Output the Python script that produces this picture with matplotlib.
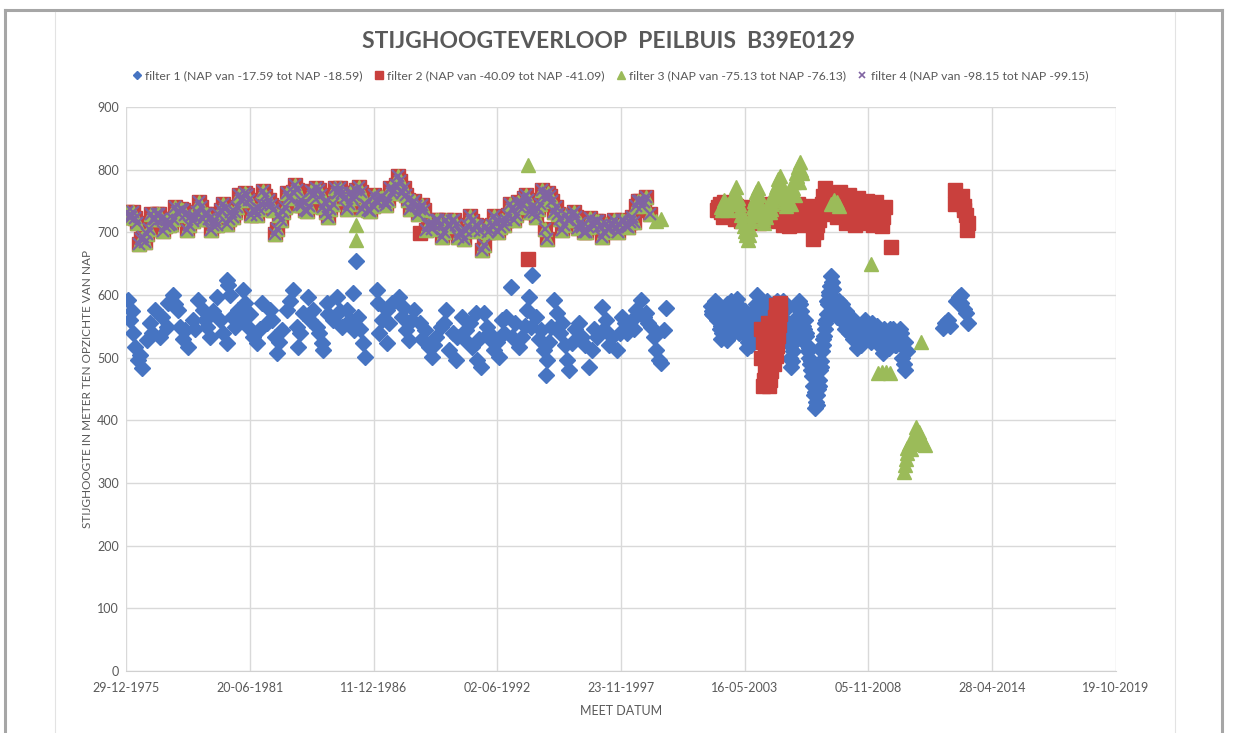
import matplotlib
matplotlib.use('Agg')
import matplotlib.pyplot as plt
import matplotlib.dates as mdates
from matplotlib.lines import Line2D
import numpy as np
from datetime import datetime

plt.rcParams['font.family'] = ['Lato', 'DejaVu Sans']

# ---------------- data (decimal year, value) ----------------
# shared record of filters 2, 3 and 4 (1976 - 1999), identical values
band_years = [1976.03, 1976.21, 1976.38, 1976.56, 1976.74, 1976.91, 1977.09, 1977.27, 1977.44, 1977.62,
              1977.80, 1977.97, 1978.15, 1978.33, 1978.50, 1978.68, 1978.86, 1979.03, 1979.21, 1979.39,
              1979.56, 1979.74, 1979.92, 1980.09, 1980.27, 1980.45, 1980.62, 1980.80, 1980.98, 1981.15,
              1981.33, 1981.51, 1981.68, 1981.86, 1982.04, 1982.21, 1982.39, 1982.57, 1982.74, 1982.92,
              1983.10, 1983.27, 1983.45, 1983.63, 1983.80, 1983.98, 1984.16, 1984.33, 1984.51, 1984.69,
              1984.86, 1985.04, 1985.22, 1985.39, 1985.57, 1985.75, 1985.92, 1986.10, 1986.28, 1986.45,
              1986.63, 1986.81, 1986.98, 1987.16, 1987.34, 1987.51, 1987.69, 1987.87, 1988.04, 1988.22,
              1988.40, 1988.57, 1988.75, 1988.93, 1989.10, 1989.28, 1989.46, 1989.63, 1989.81, 1989.99,
              1990.16, 1990.34, 1990.52, 1990.69, 1990.87, 1991.05, 1991.22, 1991.40, 1991.58, 1991.75,
              1991.93, 1992.11, 1992.28, 1992.46, 1992.64, 1992.81, 1992.99, 1993.17, 1993.34, 1993.52,
              1993.70, 1993.87, 1994.05, 1994.23, 1994.40, 1994.58, 1994.76, 1994.93, 1995.11, 1995.29,
              1995.46, 1995.64, 1995.82, 1995.99, 1996.17, 1996.35, 1996.52, 1996.70, 1996.88, 1997.05,
              1997.23, 1997.41, 1997.58, 1997.76, 1997.94, 1998.11, 1998.29, 1998.47, 1998.64, 1998.82,
              1999.00, 1999.17, 1994.52, 1994.60,
              1976.12, 1976.30, 1976.47, 1976.65, 1976.83, 1977.00, 1977.18, 1977.36, 1977.53, 1977.71,
              1977.89, 1978.06, 1978.24, 1978.42, 1978.59, 1978.77, 1978.95, 1979.12, 1979.30, 1979.48,
              1979.65, 1979.83, 1980.01, 1980.18, 1980.36, 1980.54, 1980.71, 1980.89, 1981.07, 1981.24,
              1981.42, 1981.60, 1981.77, 1981.95, 1982.13, 1982.30, 1982.48, 1982.66, 1982.83, 1983.01,
              1983.19, 1983.36, 1983.54, 1983.72, 1983.89, 1984.07, 1984.25, 1984.42, 1984.60, 1984.78,
              1984.95, 1985.13, 1985.31, 1985.48, 1985.66, 1985.84, 1986.01, 1986.19, 1986.37, 1986.54,
              1986.72, 1986.90, 1987.07, 1987.25, 1987.43, 1987.60, 1987.78, 1987.96, 1988.13, 1988.31,
              1988.49, 1988.66, 1988.84, 1989.02, 1989.19, 1989.37, 1989.55, 1989.72, 1989.90, 1990.08,
              1990.25, 1990.43, 1990.61, 1990.78, 1990.96, 1991.14, 1991.31, 1991.49, 1991.67, 1991.84,
              1992.02, 1992.20, 1992.37, 1992.55, 1992.73, 1992.90, 1993.08, 1993.26, 1993.43, 1993.61,
              1993.79, 1993.96, 1994.14, 1994.32, 1994.49, 1994.67, 1994.85, 1995.02, 1995.20, 1995.38,
              1995.55, 1995.73, 1995.91, 1996.08, 1996.26, 1996.44, 1996.61, 1996.79, 1996.97, 1997.14,
              1997.32, 1997.50, 1997.67, 1997.85, 1998.03, 1998.20, 1998.38, 1998.56, 1998.73, 1998.91]
band_vals = [733, 724, 723, 682, 693, 697, 730, 722, 730, 702,
             720, 714, 740, 730, 736, 704, 726, 724, 748, 722,
             730, 704, 720, 727, 746, 714, 733, 732, 760, 754,
             760, 727, 736, 737, 766, 744, 743, 697, 728, 732,
             763, 757, 776, 744, 743, 734, 766, 762, 768, 740,
             733, 737, 770, 762, 763, 737, 763, 760, 773, 737,
             743, 734, 760, 747, 756, 744, 770, 767, 790, 762,
             760, 737, 750, 730, 743, 704, 713, 712, 720, 692,
             720, 710, 720, 692, 698, 702, 726, 704, 710, 672,
             708, 704, 726, 700, 720, 720, 746, 720, 748, 747,
             760, 732, 733, 737, 768, 754, 758, 732, 730, 704,
             728, 720, 733, 707, 708, 700, 723, 710, 718, 692,
             713, 707, 720, 700, 720, 710, 716, 717, 750, 742,
             756, 730, 705, 690,
             725, 732, 715, 690, 685, 705, 722, 730, 722, 710,
             712, 722, 732, 738, 728, 712, 718, 732, 740, 730,
             722, 712, 712, 735, 738, 722, 725, 740, 752, 762,
             752, 735, 728, 745, 758, 752, 735, 705, 720, 740,
             755, 765, 768, 752, 735, 742, 758, 770, 760, 748,
             725, 745, 762, 770, 755, 745, 755, 768, 765, 745,
             735, 742, 752, 755, 748, 752, 762, 775, 782, 770,
             752, 745, 742, 738, 735, 712, 705, 720, 712, 700,
             712, 718, 712, 700, 690, 710, 718, 712, 702, 680,
             700, 712, 718, 708, 712, 728, 738, 728, 740, 755,
             752, 740, 725, 745, 760, 762, 750, 740, 722, 712,
             720, 728, 725, 715, 700, 708, 715, 718, 710, 700,
             705, 712, 708, 712, 718, 708, 725, 742, 750, 748]

# filter 1 (blue diamonds)
f1_pts = [(1976.08, 592), (1976.17, 560), (1976.30, 539), (1976.39, 517), (1976.52, 496), (1976.70, 483),
          (1976.92, 528), (1977.05, 555), (1977.27, 576), (1977.49, 533), (1977.80, 549), (1977.85, 587),
          (1978.07, 600), (1978.29, 576), (1978.38, 549), (1978.60, 544), (1978.73, 517), (1978.95, 560),
          (1979.17, 592), (1979.39, 576), (1979.57, 549), (1979.70, 533), (1980.01, 597), (1980.14, 560),
          (1980.45, 523), (1980.45, 624), (1980.50, 616), (1980.58, 600), (1980.80, 549), (1980.94, 576),
          (1981.16, 608), (1981.25, 587), (1981.38, 549), (1981.60, 533), (1981.78, 523), (1982.00, 587),
          (1982.22, 555), (1982.35, 576), (1982.57, 533), (1982.66, 507), (1982.88, 544), (1983.10, 576),
          (1983.37, 608), (1983.54, 549), (1983.59, 517), (1983.81, 571), (1984.03, 597), (1984.25, 576),
          (1984.43, 549), (1984.65, 523), (1984.69, 512), (1984.87, 587), (1985.13, 560), (1985.31, 597),
          (1985.57, 549), (1985.75, 576), (1986.02, 603), (1986.10, 544), (1986.24, 565), (1986.46, 523),
          (1986.55, 501), (1986.19, 654), (1987.08, 608), (1987.12, 587), (1987.30, 560), (1987.52, 576),
          (1987.56, 523), (1987.78, 587), (1988.09, 597), (1988.22, 565), (1988.40, 544), (1988.53, 528),
          (1988.75, 576), (1988.98, 555), (1989.20, 544), (1989.42, 517), (1989.51, 501), (1989.73, 533),
          (1989.95, 549), (1990.17, 576), (1990.30, 512), (1990.61, 496), (1990.65, 533), (1990.88, 565),
          (1991.05, 544), (1991.32, 517), (1991.49, 571), (1991.54, 496), (1991.71, 485), (1991.85, 571),
          (1991.98, 549), (1992.16, 528), (1992.29, 512), (1992.51, 501), (1992.64, 560), (1992.82, 565),
          (1993.04, 613), (1993.08, 533), (1993.39, 517), (1993.53, 533), (1993.75, 576), (1993.83, 597),
          (1993.92, 549), (1993.97, 632), (1994.14, 565), (1994.36, 544), (1994.50, 512), (1994.59, 472),
          (1994.63, 496), (1994.81, 549), (1994.94, 592), (1995.07, 571), (1995.29, 555), (1995.51, 496),
          (1995.60, 480), (1995.73, 523), (1996.04, 555), (1996.18, 533), (1996.48, 485), (1996.62, 512),
          (1996.84, 533), (1997.06, 581), (1997.24, 560), (1997.50, 533), (1997.72, 512), (1997.94, 565),
          (1998.16, 539), (1998.38, 560), (1998.56, 576), (1998.78, 592), (1999.00, 571), (1999.22, 549),
          (1999.36, 533), (1999.44, 512), (1999.58, 496), (1999.66, 491), (1999.80, 544), (1999.89, 579),
          # extra early readings
          (1976.25, 575), (1976.60, 505), (1977.15, 540), (1977.60, 565), (1978.18, 585), (1978.50, 530),
          (1979.05, 545), (1979.48, 560), (1979.85, 575), (1980.30, 540), (1980.70, 565), (1981.05, 560),
          (1981.50, 570), (1981.90, 545), (1982.45, 560), (1982.78, 525), (1983.25, 590), (1983.70, 540),
          (1984.15, 560), (1984.55, 540), (1984.95, 570), (1985.45, 575), (1985.90, 560), (1986.35, 545),
          (1987.20, 540), (1987.65, 555), (1988.30, 580), (1988.65, 560), (1989.10, 530), (1989.62, 520),
          (1990.05, 555), (1990.45, 540), (1990.95, 530), (1991.20, 555), (1991.62, 530), (1992.05, 540),
          (1992.40, 525), (1992.72, 540), (1993.20, 555), (1993.65, 550), (1994.25, 530), (1994.72, 525),
          (1995.18, 540), (1995.40, 520), (1995.85, 545), (1996.30, 520), (1996.72, 545), (1997.15, 545),
          (1997.38, 520), (1997.84, 540), (1998.05, 555), (1998.47, 545), (1998.90, 565), (1999.10, 555),
          # dense record 2002 - 2010
          (2001.87, 582), (2001.96, 568), (2002.05, 590), (2002.14, 560), (2002.23, 575), (2002.32, 530),
          (2002.40, 555), (2002.49, 578), (2002.58, 528), (2002.67, 548), (2002.76, 590), (2002.85, 545),
          (2002.93, 568), (2003.02, 594), (2003.11, 552), (2003.20, 580), (2003.29, 540), (2003.38, 560),
          (2003.46, 515), (2003.55, 538), (2003.64, 520), (2003.73, 575), (2003.82, 545), (2003.91, 600),
          (2003.99, 560), (2004.08, 540), (2004.17, 580), (2004.26, 555), (2004.35, 590), (2004.44, 545),
          (2004.52, 570), (2004.61, 585), (2004.70, 560), (2004.79, 590), (2004.88, 545), (2004.97, 575),
          (2005.05, 590), (2005.14, 560), (2005.23, 525), (2005.32, 545), (2005.41, 485), (2005.50, 510),
          (2005.58, 540), (2005.67, 565), (2005.76, 590), (2005.85, 575), (2005.94, 550), (2006.03, 560),
          (2006.11, 520), (2006.20, 500), (2006.29, 480), (2006.38, 455), (2006.47, 420), (2006.56, 440),
          (2006.64, 465), (2006.73, 495), (2006.82, 520), (2006.91, 545), (2007.00, 570), (2007.09, 600),
          (2007.17, 630), (2007.26, 610), (2007.35, 585), (2007.44, 565), (2007.53, 590), (2007.62, 560),
          (2007.70, 575), (2007.79, 545), (2007.88, 565), (2007.97, 540), (2008.06, 555), (2008.15, 530),
          (2008.23, 545), (2008.32, 515), (2008.41, 535), (2008.50, 520), (2008.59, 545), (2008.68, 560),
          (2008.76, 535), (2008.85, 550), (2008.94, 525), (2009.03, 545), (2009.12, 530), (2009.21, 550),
          (2009.29, 520), (2009.38, 540), (2009.47, 508), (2009.56, 525), (2009.65, 540), (2009.74, 515),
          (2009.82, 535), (2009.91, 545), (2010.00, 520), (2010.09, 538), (2010.18, 525), (2010.27, 540),
          (2010.35, 500), (2010.44, 480), (2010.53, 510),
          (2001.92, 570), (2002.10, 575), (2002.28, 545), (2002.45, 565), (2002.62, 540), (2002.80, 575),
          (2002.98, 580), (2003.15, 565), (2003.33, 555), (2003.50, 525), (2003.68, 560), (2003.86, 585),
          (2005.10, 575), (2005.28, 535), (2005.37, 500), (2005.46, 495), (2005.62, 555), (2005.80, 585),
          (2006.07, 540), (2006.16, 510), (2006.25, 490), (2006.34, 470), (2006.43, 440), (2006.52, 430),
          (2006.60, 450), (2006.69, 480), (2006.78, 510), (2006.87, 535), (2006.96, 560), (2007.05, 585),
          (2007.13, 615), (2007.22, 620), (2007.30, 595), (2007.40, 575), (2007.57, 575), (2007.75, 560),
          (2008.00, 550), (2008.28, 530), (2008.55, 530), (2008.80, 540), (2009.07, 535), (2009.34, 530),
          (2009.60, 530), (2009.87, 525), (2010.13, 530), (2010.40, 490),
          (2001.90, 575), (2002.00, 580), (2002.18, 565), (2002.36, 540), (2002.53, 560), (2002.71, 565),
          (2002.89, 585), (2003.06, 575), (2003.24, 560), (2003.42, 545), (2003.59, 530), (2003.77, 560),
          (2003.95, 575), (2002.20, 585), (2002.60, 585), (2003.00, 560), (2003.40, 575), (2003.60, 550),
          (2002.30, 550), (2002.70, 535), (2003.10, 540),
          (2005.00, 555), (2005.05, 540), (2005.15, 585), (2005.20, 545),
          (2005.40, 520), (2005.55, 525), (2005.70, 580), (2005.90, 535), (2006.00, 545),
          (2006.10, 535), (2006.22, 515), (2006.32, 495), (2006.40, 470), (2006.50, 445), (2006.58, 425),
          (2006.66, 455), (2006.75, 485), (2006.85, 530), (2006.94, 555), (2007.03, 590), (2007.11, 605),
          (2007.48, 580), (2007.66, 585), (2007.84, 575), (2007.93, 555), (2008.10, 545), (2008.19, 560),
          (2008.37, 545), (2008.45, 525), (2008.63, 555), (2008.72, 545), (2008.90, 530), (2008.98, 555),
          (2009.16, 540), (2009.25, 525), (2009.43, 530), (2009.52, 545), (2009.70, 525), (2009.78, 545),
          (2009.96, 530), (2010.05, 520), (2010.22, 545), (2010.31, 520), (2010.48, 525),
          # 2012 - 2013
          (2012.16, 548), (2012.25, 555), (2012.38, 560), (2012.47, 550), (2012.74, 590), (2012.83, 597),
          (2012.92, 600), (2012.96, 587), (2013.09, 578), (2013.18, 571), (2013.27, 555)]

# filter 2 (red squares), values besides the shared record
f2_pts = [(1989.02, 699), (1993.79, 658), (1998.78, 735),
          (2002.14, 735), (2002.27, 745), (2002.40, 725), (2002.54, 740), (2002.67, 728), (2002.80, 745),
          (2002.93, 722), (2003.07, 735), (2003.20, 718), (2003.33, 730), (2003.46, 715), (2003.60, 738),
          (2003.73, 720), (2003.86, 735), (2003.99, 715), (2004.13, 742), (2004.26, 725), (2004.39, 745),
          (2004.52, 718), (2004.66, 740), (2004.79, 725), (2004.92, 745), (2005.05, 712), (2005.19, 735),
          (2005.32, 710), (2005.45, 740), (2005.58, 720), (2005.72, 745), (2005.85, 712), (2005.98, 738),
          (2006.11, 715), (2006.25, 742), (2006.38, 690), (2006.51, 700), (2006.64, 720), (2006.78, 745),
          (2006.91, 770), (2007.04, 755), (2007.17, 730), (2007.31, 760), (2007.44, 725), (2007.57, 765),
          (2007.70, 740), (2007.84, 715), (2007.97, 760), (2008.10, 730), (2008.23, 712), (2008.37, 755),
          (2008.50, 735), (2008.63, 715), (2008.76, 750), (2008.90, 730), (2009.03, 712), (2009.16, 748),
          (2009.29, 725), (2009.43, 710), (2009.56, 740), (2009.82, 677),
          (2002.20, 740), (2002.34, 732), (2002.47, 748), (2002.60, 735), (2002.74, 738), (2002.87, 730),
          (2003.00, 742), (2003.14, 725), (2003.27, 740), (2003.40, 722), (2003.53, 728), (2003.66, 730),
          (2003.80, 725), (2003.93, 728), (2004.06, 730), (2004.20, 735), (2004.33, 732), (2004.46, 730),
          (2004.59, 730), (2004.72, 732), (2004.86, 738), (2004.99, 728), (2005.12, 722), (2005.25, 725),
          (2005.39, 722), (2005.52, 730), (2005.65, 732), (2005.78, 728), (2005.92, 725), (2006.05, 728),
          (2006.18, 730), (2006.31, 715), (2006.45, 700), (2006.58, 712), (2006.71, 735), (2006.85, 758),
          (2006.98, 762), (2007.11, 742), (2007.24, 745), (2007.37, 742), (2007.51, 745), (2007.64, 752),
          (2007.77, 728), (2007.90, 738), (2008.03, 745), (2008.17, 722), (2008.30, 735), (2008.43, 745),
          (2008.57, 725), (2008.70, 732), (2008.83, 740), (2008.96, 722), (2009.10, 730), (2009.23, 737),
          (2009.36, 718), (2009.50, 725),
          # low excursion 2004
          (2004.92, 587), (2004.75, 584), (2004.92, 570), (2004.70, 565), (2004.88, 552), (2004.66, 548),
          (2004.83, 535), (2004.61, 530), (2004.79, 518), (2004.57, 515), (2004.75, 503), (2004.48, 500),
          (2004.66, 490), (2004.35, 490), (2004.52, 478), (2004.26, 478), (2004.48, 465), (2004.21, 465),
          (2004.43, 455), (2004.17, 455), (2004.30, 540), (2004.17, 525), (2004.08, 545), (2004.39, 555),
          (2004.26, 510), (2004.08, 500),
          # 2012 - 2013
          (2012.69, 768), (2012.78, 755), (2012.69, 745), (2012.87, 748), (2013.00, 758), (2013.09, 742),
          (2013.18, 728), (2013.27, 715), (2013.22, 703), (2013.09, 735)]

# filter 3 (green triangles), values besides the shared record
f3_pts = [(1986.19, 712), (1986.19, 688), (1993.79, 808), (1999.44, 718), (1999.66, 722),
          (2002.32, 740), (2002.45, 752), (2002.58, 735), (2002.72, 748), (2002.85, 760), (2002.98, 772),
          (2003.11, 745), (2003.20, 728), (2003.33, 710), (2003.42, 695), (2003.51, 688), (2003.60, 705),
          (2003.69, 730), (2003.77, 750), (2003.86, 765), (2003.95, 770), (2004.04, 745), (2004.13, 728),
          (2004.22, 715), (2004.30, 725), (2004.39, 740), (2004.48, 732), (2004.57, 745), (2004.66, 760),
          (2004.75, 772), (2004.83, 785), (2004.92, 790), (2005.01, 770), (2005.10, 755), (2005.19, 742),
          (2005.28, 760), (2005.36, 770), (2005.45, 765), (2005.54, 780), (2005.63, 795), (2005.72, 805),
          (2005.80, 812), (2005.89, 795), (2005.76, 780), (2005.58, 760), (2005.41, 745),
          (2002.38, 735), (2002.52, 745), (2002.65, 738), (2002.78, 752), (2002.92, 765), (2003.05, 755),
          (2003.15, 735), (2003.25, 718), (2003.38, 702), (2003.47, 700), (2003.56, 695), (2003.64, 718),
          (2003.73, 740), (2003.82, 755), (2003.90, 740), (2004.00, 760), (2004.08, 735), (2004.17, 722),
          (2004.26, 730), (2004.35, 732), (2004.44, 748), (2004.53, 738), (2004.62, 752), (2004.70, 765),
          (2004.79, 775), (2004.88, 760), (2004.97, 778), (2005.05, 760), (2005.14, 748), (2005.23, 752),
          (2005.32, 765), (2005.50, 770), (2005.67, 790), (2005.84, 800),
          (2007.17, 745), (2007.31, 752), (2007.44, 748), (2007.53, 742),
          (2008.94, 650),
          (2009.25, 475), (2009.43, 477), (2009.60, 477), (2009.78, 475),
          (2011.19, 525),
          (2010.40, 318), (2010.44, 328), (2010.49, 338), (2010.53, 348), (2010.57, 356), (2010.66, 362),
          (2010.75, 368), (2010.84, 375), (2010.93, 385), (2010.97, 390), (2011.06, 382), (2011.15, 372),
          (2011.24, 365), (2011.33, 360), (2010.71, 355), (2010.88, 362), (2011.06, 365)]

legend_labels = ['filter 1 (NAP van -17.59 tot NAP -18.59)',
                 'filter 2 (NAP van -40.09 tot NAP -41.09)',
                 'filter 3 (NAP van -75.13 tot NAP -76.13)',
                 'filter 4 (NAP van -98.15 tot NAP -99.15)']
title_text = 'STIJGHOOGTEVERLOOP  PEILBUIS  B39E0129'
y_ticks = [0, 100, 200, 300, 400, 500, 600, 700, 800, 900]
x_start = datetime(1975, 12, 29)
x_step_days = 2000
n_xticks = 9

colors = ['#4674C2', '#C9403D', '#9BBB59', '#8064A2']
grey_text = '#595959'


def yr2num(y):
    y = np.asarray(y, dtype=float)
    base = mdates.date2num(datetime(2000, 1, 1))
    return base + (y - 2000.0) * 365.2425


f1x = yr2num([p[0] for p in f1_pts]); f1y = [p[1] for p in f1_pts]
f2x = np.concatenate([yr2num(band_years), yr2num([p[0] for p in f2_pts])])
f2y = list(band_vals) + [p[1] for p in f2_pts]
f3x = np.concatenate([yr2num(band_years), yr2num([p[0] for p in f3_pts])])
f3y = list(band_vals) + [p[1] for p in f3_pts]
f4x = yr2num(band_years); f4y = band_vals

# ---------------- figure ----------------
W, H = 1234, 733
fig = plt.figure(figsize=(W / 100, H / 100), dpi=100)
fig.patch.set_facecolor('white')


def fline(x0, y0, x1, y1, color, lw):
    fig.add_artist(Line2D([x0 / W, x1 / W], [1 - y0 / H, 1 - y1 / H],
                          transform=fig.transFigure, color=color, lw=lw))


fline(5, 10, 1222, 10, '#A6A6A6', 2.2)
fline(5, 10, 5, 733, '#A6A6A6', 2.2)
fline(1222, 10, 1222, 733, '#A6A6A6', 2.2)
fline(55, 12, 55, 733, '#E3E3E3', 0.8)
fline(1175, 12, 1175, 733, '#E3E3E3', 0.8)

ax_l, ax_r, ax_t, ax_b = 126, 1116, 107, 671
ax = fig.add_axes([ax_l / W, 1 - ax_b / H, (ax_r - ax_l) / W, (ax_b - ax_t) / H])

ax.plot(f1x, f1y, linestyle='none', marker='D', ms=8.0, color=colors[0], mec=colors[0], zorder=3)
ax.plot(f2x, f2y, linestyle='none', marker='s', ms=9.5, color=colors[1], mec=colors[1], zorder=4)
ax.plot(f3x, f3y, linestyle='none', marker='^', ms=10.0, color=colors[2], mec=colors[2], zorder=5)
ax.plot(f4x, f4y, linestyle='none', marker='x', ms=8.0, mew=1.6, color=colors[3], zorder=6)

x0 = mdates.date2num(x_start)
xticks = [x0 + k * x_step_days for k in range(n_xticks)]
ax.set_xlim(xticks[0], xticks[-1])
ax.set_ylim(0, 900)
ax.set_xticks(xticks)
ax.set_yticks(y_ticks)
ax.xaxis.set_major_formatter(mdates.DateFormatter('%d-%m-%Y'))
ax.grid(True, color='#D9D9D9', lw=1.0)
ax.set_axisbelow(True)
for s in ['top', 'right', 'left']:
    ax.spines[s].set_visible(False)
ax.spines['bottom'].set_color('#D0D0D0')
ax.tick_params(length=0, labelsize=9, labelcolor=grey_text, pad=8)
ax.tick_params(axis='y', pad=5)

ax.set_xlabel('MEET DATUM', fontsize=9, color=grey_text, labelpad=8)
ax.set_ylabel('STIJGHOOGTE IN METER TEN OPZICHTE VAN NAP', fontsize=8.5, color=grey_text, labelpad=3)

fig.text(609 / W, 1 - 42 / H, title_text, ha='center', va='center', fontsize=16.5,
         fontweight='bold', color=grey_text)

handles = [Line2D([], [], linestyle='none', marker='D', ms=4, color=colors[0]),
           Line2D([], [], linestyle='none', marker='s', ms=6, color=colors[1]),
           Line2D([], [], linestyle='none', marker='^', ms=6, color=colors[2]),
           Line2D([], [], linestyle='none', marker='x', ms=5, mew=1.2, color=colors[3])]
leg = fig.legend(handles, legend_labels, loc='center', bbox_to_anchor=(610 / W, 1 - 76 / H),
                 ncol=4, frameon=False, fontsize=8.8, handlelength=0.8, handletextpad=0.3,
                 columnspacing=0.9)
for t in leg.get_texts():
    t.set_color(grey_text)

fig.savefig('out.png', dpi=100, facecolor='white')
